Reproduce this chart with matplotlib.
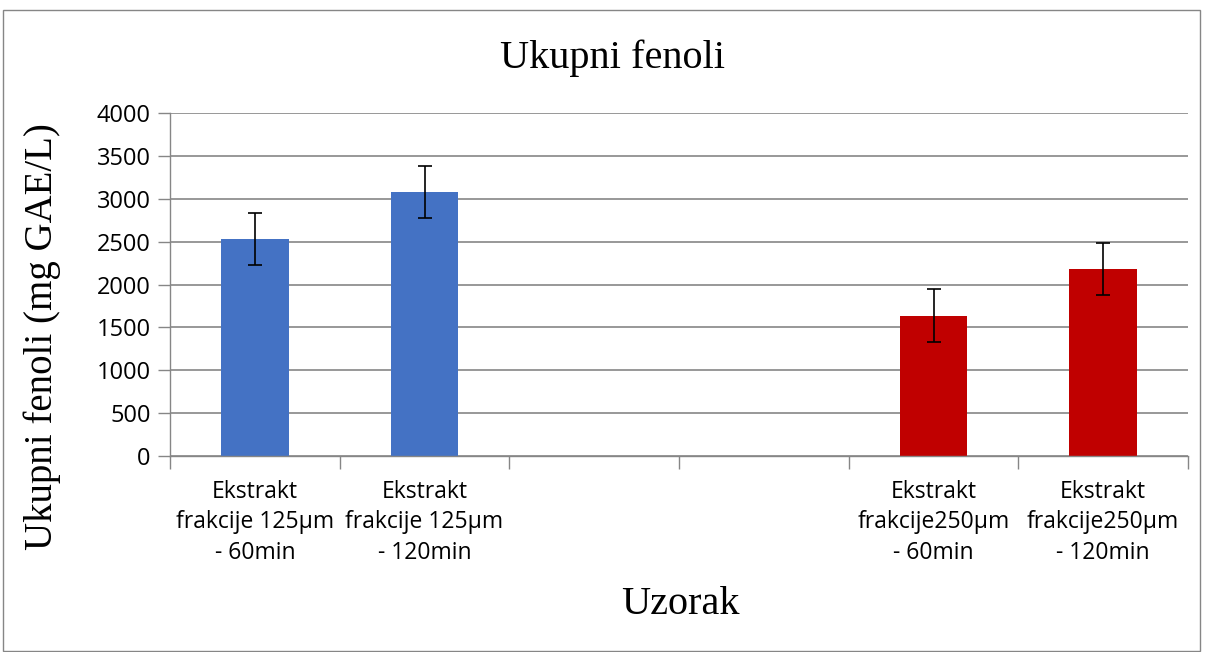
import matplotlib
matplotlib.use("Agg")
import matplotlib.pyplot as plt
from matplotlib.patches import Rectangle
import numpy as np

# data
categories = ["Ekstrakt\nfrakcije 125µm\n- 60min",
              "Ekstrakt\nfrakcije 125µm\n- 120min",
              "", "",
              "Ekstrakt\nfrakcije250µm\n- 60min",
              "Ekstrakt\nfrakcije250µm\n- 120min"]
values = [2530, 3080, np.nan, np.nan, 1635, 2180]
errors = [305, 305, np.nan, np.nan, 310, 305]
colors = ["#4472C4", "#4472C4", "none", "none", "#C00000", "#C00000"]
yticks = [0, 500, 1000, 1500, 2000, 2500, 3000, 3500, 4000]

grey = "#868686"

fig = plt.figure(figsize=(12.05, 6.52), dpi=100)
fig.patches.append(Rectangle((3 / 1205, 0.002), 1197 / 1205, 1 - 0.002 - 10 / 652,
                             transform=fig.transFigure, fill=False,
                             edgecolor=grey, linewidth=1))

ax = fig.add_axes([170 / 1205, 196 / 652, 1018 / 1205, 343 / 652])
x = np.arange(len(categories))

ax.set_axisbelow(True)
ax.yaxis.grid(True, color=grey, linewidth=1.2)
ax.bar(x, np.nan_to_num(values), width=0.4, color=colors)
ax.errorbar(x, values, yerr=errors, fmt="none", ecolor="black",
            elinewidth=1.2, capsize=5, capthick=1.2)

ax.set_xlim(-0.5, len(categories) - 0.5)
ax.set_ylim(0, 4000)
ax.set_yticks(yticks)
ax.set_yticklabels([str(t) for t in yticks], fontsize=17, family="Open Sans")
ax.tick_params(axis="y", length=9, color=grey, width=1, pad=5)

ax.set_xticks(x)
ax.set_xticklabels(categories, fontsize=16.5, family="Open Sans", linespacing=1.38)
ax.tick_params(axis="x", which="major", length=0, pad=17)
ax.set_xticks(np.arange(-0.5, len(categories)), minor=True)
ax.tick_params(axis="x", which="minor", length=9, color=grey, width=1)

for s in ["top", "right"]:
    ax.spines[s].set_visible(False)
for s in ["left", "bottom"]:
    ax.spines[s].set_color(grey)
    ax.spines[s].set_linewidth(1)

fig.text(612 / 1205, 1 - 58 / 652, "Ukupni fenoli", ha="center", va="center",
         fontsize=29, family="Liberation Serif")
fig.text(42 / 1205, 1 - 337 / 652, "Ukupni fenoli (mg GAE/L)", ha="center",
         va="center", rotation=90, fontsize=28, family="Liberation Serif")
fig.text(680 / 1205, 1 - 605 / 652, "Uzorak", ha="center", va="center",
         fontsize=29, family="Liberation Serif")

fig.savefig("out.png", dpi=100)
